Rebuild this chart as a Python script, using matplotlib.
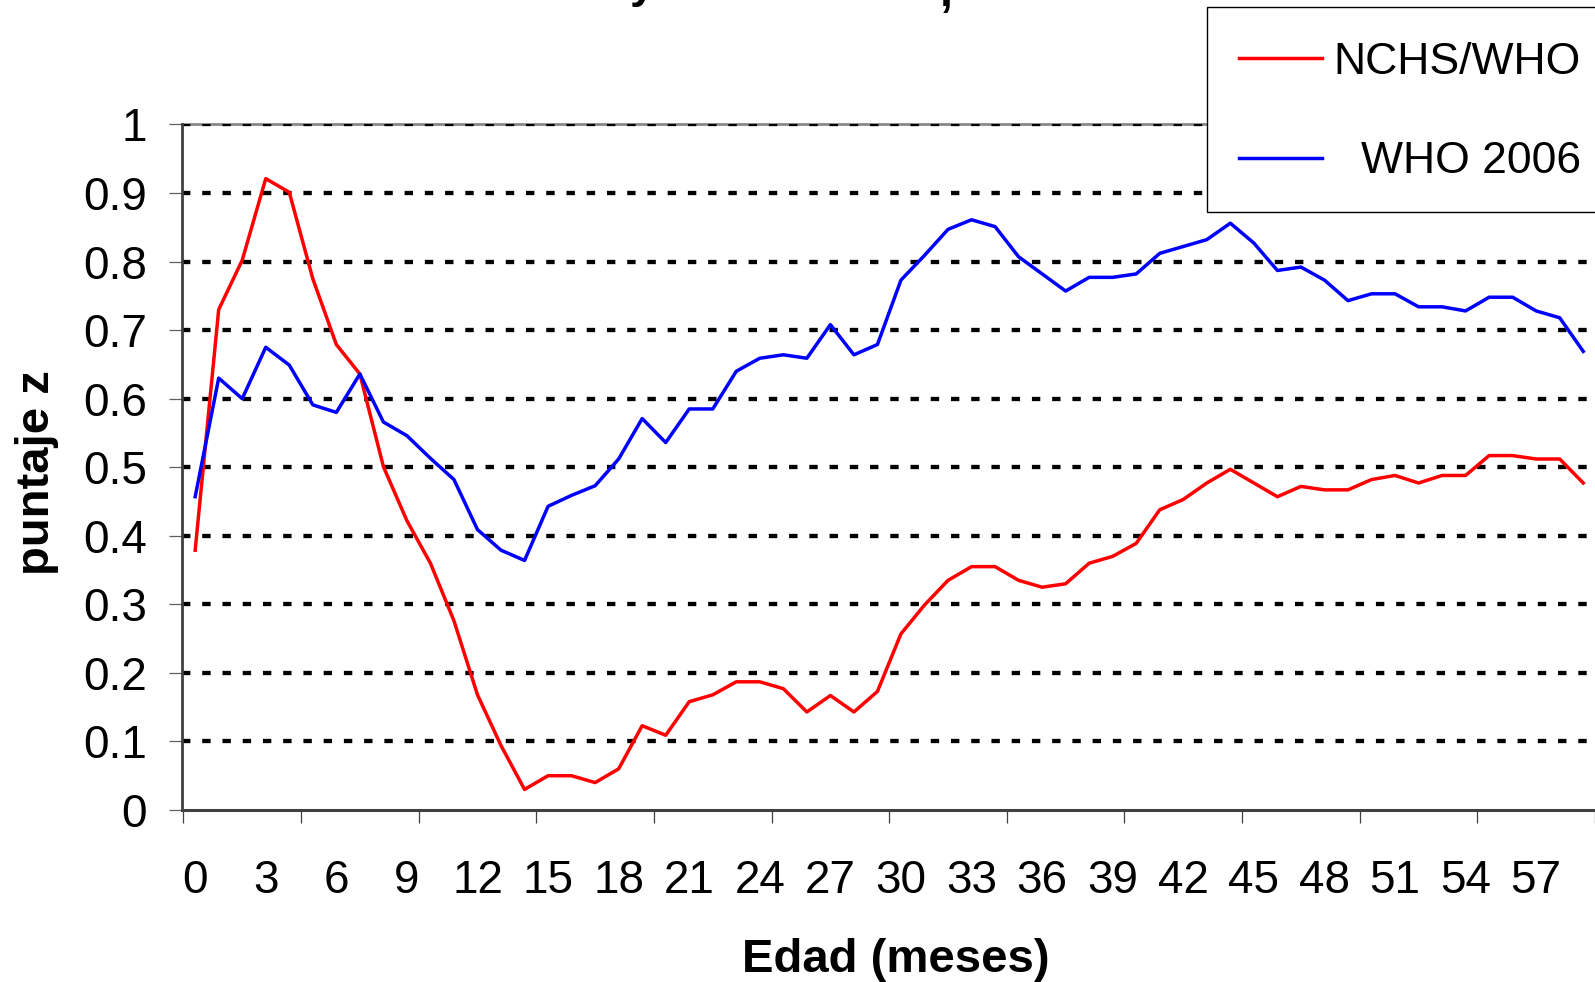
import matplotlib
matplotlib.use("Agg")
import matplotlib.pyplot as plt
from matplotlib.patches import Rectangle
from matplotlib.lines import Line2D

# edad en meses (una categoria por mes)
meses = list(range(60))

# puntaje z medio
nchs_who = [0.379, 0.730, 0.802, 0.921, 0.901, 0.775, 0.679, 0.636, 0.501, 0.422,
            0.360, 0.276, 0.168, 0.094, 0.030, 0.050, 0.050, 0.040, 0.060, 0.123,
            0.109, 0.158, 0.168, 0.187, 0.187, 0.177, 0.143, 0.167, 0.143, 0.173,
            0.257, 0.299, 0.335, 0.355, 0.355, 0.335, 0.325, 0.330, 0.360, 0.370,
            0.389, 0.438, 0.453, 0.477, 0.497, 0.477, 0.457, 0.472, 0.467, 0.467,
            0.482, 0.488, 0.477, 0.488, 0.488, 0.517, 0.517, 0.512, 0.512, 0.477]
who_2006 = [0.457, 0.630, 0.600, 0.675, 0.649, 0.591, 0.580, 0.636, 0.566, 0.546,
            0.513, 0.482, 0.409, 0.379, 0.364, 0.443, 0.459, 0.473, 0.512, 0.571,
            0.536, 0.585, 0.585, 0.640, 0.659, 0.664, 0.659, 0.708, 0.664, 0.679,
            0.773, 0.809, 0.847, 0.861, 0.851, 0.807, 0.782, 0.757, 0.777, 0.777,
            0.782, 0.812, 0.822, 0.832, 0.856, 0.827, 0.787, 0.792, 0.773, 0.743,
            0.753, 0.753, 0.734, 0.734, 0.728, 0.748, 0.748, 0.728, 0.718, 0.669]

x_labels = list(range(0, 60, 3))
y_ticks = [0, 0.1, 0.2, 0.3, 0.4, 0.5, 0.6, 0.7, 0.8, 0.9, 1]
y_labels = ["0", "0.1", "0.2", "0.3", "0.4", "0.5", "0.6", "0.7", "0.8", "0.9", "1"]
series_names = ["NCHS/WHO", "WHO 2006"]

plt.rcParams['font.family'] = ['Liberation Sans', 'DejaVu Sans']

fig = plt.figure(figsize=(15.95, 9.82), dpi=100)
ax = fig.add_axes([0.1144, 0.17515, 0.8856, 0.6981])

ax.plot(meses, nchs_who, color='#ff0000', lw=2.5, zorder=3)
ax.plot(meses, who_2006, color='#0000ff', lw=2.5, zorder=3)

ax.set_xlim(-0.54, 59.32)
ax.set_ylim(0, 1)

# marcas del eje x cada 5 categorias, etiquetas cada 3 meses
ax.set_xticks([-0.5 + 5 * k for k in range(13)])
ax.set_xticklabels([])
ax.set_xticks(x_labels, minor=True)
ax.set_xticklabels([str(v) for v in x_labels], minor=True, fontsize=33)
ax.tick_params(axis='x', which='major', direction='out', length=9.5, width=0.9, color='#404040')
ax.tick_params(axis='x', which='minor', length=0, pad=35)

ax.set_yticks(y_ticks)
ax.set_yticklabels(y_labels, fontsize=33)
ax.tick_params(axis='y', direction='out', length=9.5, width=0.9, color='#606060', pad=16)

ax.grid(axis='y', color='black', lw=3.1, ls=(0, (1.95, 2.75)), zorder=1)
ax.get_ygridlines()[0].set_visible(False)
ax.set_axisbelow(True)

ax.spines['right'].set_visible(False)
ax.spines['top'].set_color('#888888')
ax.spines['top'].set_linewidth(2)
ax.spines['top'].set_zorder(0.3)
ax.spines['left'].set_color('#404040')
ax.spines['left'].set_linewidth(2)
ax.spines['bottom'].set_color('#404040')
ax.spines['bottom'].set_linewidth(2.2)

# titulos de ejes
fig.text(37 / 1595, 1 - 473 / 982, "puntaje z", rotation=90, ha='center', va='center',
         fontsize=34, fontweight='bold')
fig.text(896 / 1595, 10.5 / 982, "Edad (meses)", ha='center', va='baseline',
         fontsize=34, fontweight='bold')

# restos del titulo, cortado en el borde superior
fig.text(630 / 1595, 1 + 2.6 / 982, "y", ha='left', va='baseline', fontsize=33, fontweight='bold')
fig.text(940 / 1595, 1 - 6 / 982, ",", ha='left', va='baseline', fontsize=33, fontweight='bold')

# leyenda (recortada por el borde derecho)
fig.add_artist(Rectangle((1206.7 / 1595, 1 - 212 / 982), 0.3, (212 - 7.3) / 982,
                         transform=fig.transFigure, facecolor='white', edgecolor='black',
                         lw=1, zorder=5))
colors = ['#ff0000', '#0000ff']
line_y = [57.7, 157.7]
text_y = [74, 173.3]
for name, c, ly, ty in zip(series_names, colors, line_y, text_y):
    fig.add_artist(Line2D([1239 / 1595, 1322 / 1595], [1 - ly / 982, 1 - ly / 982],
                          transform=fig.transFigure, color=c, lw=2.5, zorder=6))
    fig.text(1581 / 1595, 1 - ty / 982, name, ha='right', va='baseline', fontsize=32, zorder=6)

fig.savefig('out.png', dpi=100)
